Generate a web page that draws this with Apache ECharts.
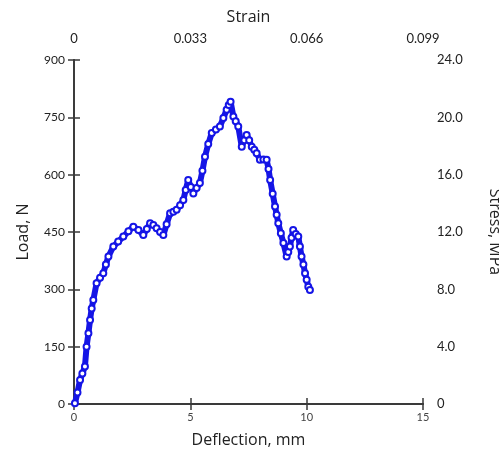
<!DOCTYPE html>
<html>
<head>
<meta charset="utf-8">
<script src="https://cdn.jsdelivr.net/npm/echarts@6/dist/echarts.min.js"></script>
<style>
html,body{margin:0;padding:0;background:#fff;}
#chart{width:499px;height:453px;}
</style>
</head>
<body>
<div id="chart"></div>
<script>
// Deflection (mm)
const deflection = [0.04,0.15,0.26,0.36,0.47,0.54,0.62,0.69,0.76,0.83,0.97,1.12,1.26,1.37,1.48,1.69,1.90,2.12,2.34,2.55,2.77,2.98,3.13,3.27,3.41,3.55,3.70,3.84,3.98,4.13,4.27,4.41,4.56,4.70,4.80,4.91,5.02,5.13,5.27,5.41,5.52,5.63,5.77,5.92,6.10,6.27,6.42,6.56,6.65,6.73,6.85,6.95,7.06,7.21,7.32,7.42,7.53,7.64,7.75,7.85,7.99,8.14,8.28,8.36,8.43,8.54,8.64,8.71,8.78,8.89,9.00,9.14,9.21,9.28,9.35,9.42,9.53,9.64,9.71,9.78,9.86,9.93,10.00,10.07,10.14];
// Load (N)
const load = [2,30,63,80,98,150,185,220,250,272,316,330,342,365,386,412,425,438,452,464,455,442,458,473,468,460,450,442,470,499,503,508,520,534,560,586,568,551,565,578,610,647,680,709,718,726,748,770,782,791,752,740,726,673,690,704,690,673,665,656,639,640,639,615,586,550,517,495,473,447,421,386,398,412,435,455,445,438,412,386,365,342,325,307,298];
// Axis ticks
const loadTicks = [0,150,300,450,600,750,900];
const deflTicks = [0,5,10,15];
const strainTicks = ['0','0.033','0.066','0.099'];
const stressTicks = ['0','4.0','8.0','12.0','16.0','20.0','24.0'];

const chart = echarts.init(document.getElementById('chart'), null, {renderer:'canvas'});
const axisCol = '#3a3a3a';
const txt = '#222';
const tickFont = 'Lato, "Open Sans", sans-serif';
const titleFont = '"Open Sans", sans-serif';
const lineCommon = {show:true, lineStyle:{color:axisCol, width:1.8}};
const tickCommon = {show:true, inside:true, length:6, lineStyle:{color:axisCol, width:1.5}};

chart.setOption({
  animation:false,
  backgroundColor:'#fff',
  grid:{left:74, right:76, top:60, bottom:49, containLabel:false, outerBoundsMode:'none'},
  xAxis:[
    {type:'value', position:'bottom', min:0, max:15, interval:5,
     name:'Deflection, mm', nameLocation:'middle', nameGap:28,
     nameTextStyle:{fontFamily:titleFont, fontSize:16, color:txt},
     axisLine:lineCommon, axisTick:tickCommon, splitLine:{show:false},
     axisLabel:{fontFamily:tickFont, fontSize:11, color:'#444', margin:8,
       formatter:(v)=>deflTicks.indexOf(v)>=0?String(v):''}},
    {type:'value', position:'top', min:0, max:0.099, interval:0.033,
     name:'Strain', nameLocation:'middle', nameGap:35,
     nameTextStyle:{fontFamily:titleFont, fontSize:16, color:txt},
     axisLine:lineCommon, axisTick:tickCommon, splitLine:{show:false},
     axisLabel:{fontFamily:tickFont, fontSize:13, color:txt, margin:15,
       formatter:(v)=>strainTicks[Math.round(v/0.033)]}}
  ],
  yAxis:[
    {type:'value', position:'left', min:0, max:900, interval:150,
     name:'Load, N', nameLocation:'middle', nameGap:43,
     nameTextStyle:{fontFamily:titleFont, fontSize:16, color:txt},
     axisLine:lineCommon, axisTick:tickCommon, splitLine:{show:false},
     axisLabel:{fontFamily:tickFont, fontSize:12, color:txt, margin:9,
       formatter:(v)=>loadTicks.indexOf(v)>=0?String(v):''}},
    {type:'value', position:'right', min:0, max:24, interval:4,
     name:'Stress, MPa', nameLocation:'middle', nameGap:64, nameRotate:-90,
     nameTextStyle:{fontFamily:titleFont, fontSize:16, color:txt},
     axisLine:lineCommon, axisTick:tickCommon, splitLine:{show:false},
     axisLabel:{fontFamily:tickFont, fontSize:13, color:txt, margin:14,
       formatter:(v)=>stressTicks[Math.round(v/4)]}}
  ],
  series:[{
    type:'line', xAxisIndex:0, yAxisIndex:0,
    data: deflection.map((d,i)=>[d, load[i]]),
    symbol:'emptyCircle', symbolSize:6, showSymbol:true,
    lineStyle:{color:'#1515e6', width:6},
    itemStyle:{color:'#1515e6', borderColor:'#1515e6', borderWidth:2},
    z:3
  }]
});
</script>
</body>
</html>
